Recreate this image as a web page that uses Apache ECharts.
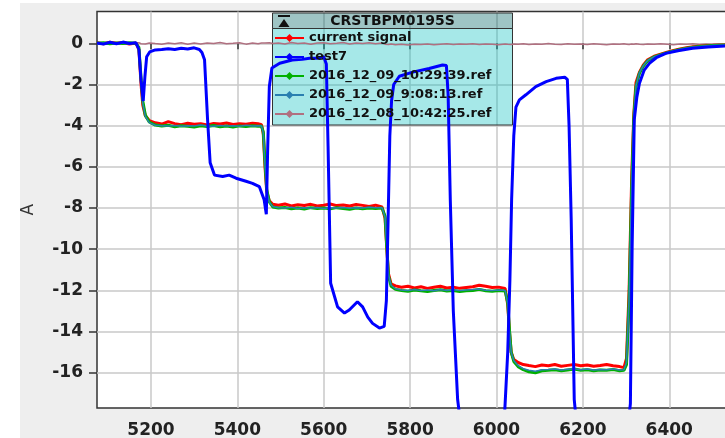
<!DOCTYPE html>
<html>
<head>
<meta charset="utf-8">
<script src="https://cdn.jsdelivr.net/npm/echarts@6/dist/echarts.min.js"></script>
<style>
  html, body { margin: 0; padding: 0; background: #fff; }
  #wrap { position: relative; width: 725px; height: 438px; overflow: hidden; }
  #panel { position: absolute; left: 20px; top: 3px; right: 0; bottom: 0; background: #eeeeee; }
  #chart { position: absolute; left: 0; top: 0; width: 725px; height: 438px; }
</style>
</head>
<body>
<div id="wrap"><div id="panel"></div><div id="chart"></div></div>
<script>
// axis ticks
var xTicks = [5200, 5400, 5600, 5800, 6000, 6200, 6400]
var yTicks = [-16, -14, -12, -10, -8, -6, -4, -2, 0]

var names = ['current signal', 'test7', '2016_12_09_10:29:39.ref', '2016_12_09_9:08:13.ref', '2016_12_08_10:42:25.ref']

// shared x for the reference curves
var xs = [5075, 5090, 5105, 5120, 5135, 5150, 5165, 5172, 5177, 5181, 5187, 5196, 5210,
  5225, 5240, 5255, 5270, 5285, 5300, 5315, 5330, 5345, 5360, 5375, 5390, 5405, 5420, 5435, 5448, 5456,
  5460, 5464, 5468, 5474, 5482,
  5495, 5510, 5525, 5540, 5555, 5570, 5585, 5600, 5615, 5630, 5645, 5660, 5675, 5690, 5705, 5720, 5735,
  5742, 5746, 5750, 5756, 5766,
  5780, 5795, 5810, 5825, 5840, 5855, 5870, 5885, 5900, 5915, 5930, 5945, 5960, 5975, 5990, 6005, 6020,
  6026, 6030, 6034, 6040, 6050,
  6062, 6075, 6090, 6105, 6120, 6135, 6150, 6165, 6180, 6195, 6210, 6225, 6240, 6255, 6270, 6285, 6295,
  6301, 6307, 6313, 6318, 6323, 6331,
  6340, 6350, 6365, 6380, 6395, 6410, 6425, 6440, 6455, 6470, 6485, 6500, 6515, 6536]

var current = [0.03, -0.02, 0.05, 0.0, 0.04, -0.03, 0.02, -0.3, -2.0, -3.0, -3.52, -3.75, -3.86,
  -3.92, -3.8, -3.9, -3.95, -3.88, -3.93, -3.9, -3.96, -3.89, -3.92, -3.87, -3.94, -3.9, -3.93, -3.88, -3.91, -3.95,
  -4.4, -6.0, -7.2, -7.65, -7.82,
  -7.86, -7.8, -7.9, -7.84, -7.88, -7.82, -7.9, -7.86, -7.8, -7.88, -7.85, -7.9, -7.83, -7.87, -7.92, -7.86, -7.95,
  -8.5, -10.0, -11.2, -11.68, -11.78,
  -11.85, -11.8, -11.88, -11.82, -11.9, -11.85, -11.8, -11.88, -11.84, -11.9, -11.86, -11.82, -11.75, -11.8, -11.86, -11.84, -11.9,
  -12.7, -14.0, -15.0, -15.35, -15.5,
  -15.6, -15.65, -15.7, -15.62, -15.66, -15.6, -15.68, -15.64, -15.6, -15.66, -15.62, -15.68, -15.65, -15.6, -15.66, -15.7, -15.75,
  -15.3, -12.0, -6.5, -3.4, -1.9, -1.4,
  -1.05, -0.8, -0.63, -0.53, -0.43, -0.35, -0.28, -0.22, -0.17, -0.14, -0.12, -0.1, -0.09, -0.07]

var ref1029 = [0.0, 0.03, -0.02, 0.02, -0.01, 0.03, 0.0, -0.2, -1.7, -2.8, -3.5, -3.82, -3.97,
  -4.02, -3.98, -4.05, -4.0, -4.03, -4.06, -4.0, -4.04, -3.99, -4.05, -4.02, -4.06, -4.01, -4.04, -4.0, -4.03, -4.02,
  -4.3, -5.8, -7.1, -7.7, -7.95,
  -8.0, -7.97, -8.03, -8.0, -8.05, -7.98, -8.02, -8.0, -8.04, -7.98, -8.02, -8.06, -8.0, -8.03, -8.0, -8.02, -8.0,
  -8.4, -9.9, -11.3, -11.8, -11.95,
  -12.0, -12.04, -11.98, -12.02, -12.05, -12.0, -11.97, -12.03, -12.0, -12.05, -12.02, -12.0, -11.95, -12.02, -12.04, -12.0, -12.03,
  -12.6, -13.9, -15.0, -15.45, -15.7,
  -15.85, -15.95, -16.0, -15.9, -15.88, -15.85, -15.9, -15.86, -15.82, -15.88, -15.85, -15.9, -15.86, -15.88, -15.84, -15.9, -15.88,
  -15.6, -12.5, -7.0, -3.6, -2.1, -1.45,
  -1.1, -0.85, -0.66, -0.55, -0.45, -0.37, -0.3, -0.24, -0.19, -0.15, -0.13, -0.11, -0.09, -0.08]

var ref0908 = [-0.02, 0.01, 0.02, -0.03, 0.01, -0.02, 0.01, -0.25, -1.8, -2.9, -3.55, -3.85, -3.98,
  -4.0, -4.02, -3.99, -4.03, -4.0, -4.02, -3.97, -4.01, -4.03, -3.99, -4.02, -4.0, -4.03, -3.98, -4.02, -4.0, -4.01,
  -4.35, -5.9, -7.15, -7.72, -7.93,
  -7.98, -8.0, -7.96, -8.02, -7.98, -8.01, -7.97, -8.02, -7.98, -8.0, -7.97, -8.01, -7.98, -8.0, -7.96, -7.99, -7.98,
  -8.45, -9.95, -11.25, -11.75, -11.92,
  -11.98, -12.0, -11.96, -12.01, -11.98, -12.02, -11.96, -12.0, -11.97, -12.01, -11.98, -11.96, -11.93, -11.99, -12.01, -11.98, -12.0,
  -12.65, -13.95, -15.0, -15.4, -15.65,
  -15.8, -15.88, -15.93, -15.85, -15.84, -15.82, -15.86, -15.83, -15.8, -15.85, -15.82, -15.86, -15.84, -15.85, -15.82, -15.86, -15.85,
  -15.5, -12.3, -6.8, -3.5, -2.05, -1.42,
  -1.08, -0.83, -0.65, -0.54, -0.44, -0.36, -0.29, -0.23, -0.18, -0.15, -0.12, -0.1, -0.09, -0.07]

var ref1042 = [0.02, -0.03, 0.01, -0.04, 0.03, -0.02, 0.0, 0.03, -0.02, 0.01, -0.03, 0.02, -0.01,
  -0.04, 0.02, -0.02, 0.03, -0.05, 0.01, -0.03, 0.02, -0.01, 0.04, -0.02, 0.0, 0.03, -0.04, 0.01, -0.02, 0.02,
  -0.03, 0.01, -0.02, 0.03, -0.01,
  0.02, -0.03, 0.04, -0.01, 0.02, -0.04, 0.01, 0.03, -0.02, 0.0, 0.04, -0.03, 0.02, -0.01, 0.03, -0.02, 0.01,
  -0.04, 0.02, -0.06, -0.03, -0.07,
  -0.05, -0.08, -0.04, -0.06, -0.03, -0.07, -0.04, -0.02, -0.06, -0.03, -0.05, -0.02, -0.06, -0.03, -0.04, -0.07, -0.03,
  -0.05, -0.02, -0.06, -0.03, -0.05,
  -0.02, -0.06, -0.03, -0.05, -0.01, -0.04, -0.06, -0.02, -0.05, -0.03, -0.06, -0.02, -0.04, -0.07, -0.03, -0.05, -0.02,
  -0.04, -0.06, -0.03, -0.05, -0.02, -0.04,
  -0.06, -0.03, -0.05, -0.02, -0.04, -0.07, -0.03, -0.05, -0.02, -0.06, -0.03, -0.04, -0.02, -0.05]

// test7 has its own sampling
var blueX = [5075, 5090, 5105, 5120, 5135, 5150, 5165, 5172, 5177, 5182,
  5186, 5190, 5197, 5210, 5225, 5240, 5255, 5270, 5285, 5300,
  5312, 5318, 5324, 5331, 5337, 5347, 5366, 5381, 5397, 5420,
  5435, 5451, 5462, 5467, 5470, 5474, 5480, 5498, 5527, 5550,
  5567, 5585, 5600, 5606, 5610, 5616, 5632, 5648, 5659, 5678,
  5690, 5702, 5713, 5729, 5740, 5745, 5749, 5753, 5757, 5762,
  5775, 5806, 5844, 5875, 5884, 5888, 5893, 5900, 5910, 5920,
  5960, 6000, 6018, 6026, 6031, 6035, 6040, 6045, 6053, 6068,
  6091, 6115, 6138, 6158, 6164, 6168, 6173, 6180, 6190, 6240,
  6300, 6310, 6314, 6319, 6325, 6331, 6342, 6354, 6370, 6392,
  6420, 6454, 6490, 6536]
var blueY = [0.02, -0.04, 0.05, -0.02, 0.06, -0.01, 0.03, -0.3, -1.8, -2.8,
  -1.6, -0.65, -0.42, -0.32, -0.3, -0.26, -0.3, -0.24, -0.28, -0.22,
  -0.3, -0.45, -0.8, -3.7, -5.8, -6.4, -6.47, -6.4, -6.55, -6.7,
  -6.8, -6.96, -7.6, -8.3, -5.3, -2.1, -1.2, -0.97, -0.81, -0.78,
  -0.73, -0.72, -0.65, -1.0, -5.0, -11.65, -12.8, -13.1, -12.95, -12.55,
  -12.8, -13.3, -13.6, -13.83, -13.75, -12.5, -8.6, -4.5, -2.8, -2.0,
  -1.6, -1.4, -1.22, -1.05, -1.08, -2.5, -7.6, -13.0, -17.3, -19.0,
  -20.5, -20.0, -18.3, -15.0, -11.5, -7.6, -4.5, -3.1, -2.75, -2.5,
  -2.1, -1.86, -1.7, -1.65, -1.75, -4.0, -8.6, -17.3, -19.5, -21.0,
  -19.5, -17.5, -10.0, -3.7, -2.6, -1.94, -1.3, -0.97, -0.7, -0.49,
  -0.36, -0.24, -0.18, -0.12]

function pairs(x, y) {
	let out = []
	for (var i = 0; i < x.length; i++) {
		out.push([x[i], y[i]])
	}
	return out
}

var chart = echarts.init(document.getElementById('chart'), null, {renderer: 'canvas'})

var tickFont = {fontFamily: 'DejaVu Sans', fontWeight: 'bold', fontSize: 17, color: '#222'}

function lineSeries(name, data, color, width) {
	return {
		name: name,
		type: 'line',
		data: data,
		symbol: 'diamond',
		showSymbol: false,
		symbolSize: 8,
		itemStyle: { color: color },
		lineStyle: { color: color, width: width },
		emphasis: { disabled: true },
		clip: true
	}
}

option = {
	backgroundColor: 'transparent',
	animation: false,
	grid: {
		left: 97, top: 11.5, right: -3, bottom: 30,
		show: true, backgroundColor: '#fff', borderColor: '#333', borderWidth: 1.5,
		containLabel: false, outerBoundsMode: 'none'
	},
	legend: {
		orient: 'vertical',
		left: 274, top: 30.5,
		padding: 0,
		itemWidth: 29, itemHeight: 10, itemGap: 4,
		z: 5,
		textStyle: { fontFamily: 'DejaVu Sans', fontWeight: 'bold', fontSize: 13, color: '#111', lineHeight: 15 },
		data: names
	},
	xAxis: {
		type: 'value',
		min: 5075, max: 6536,
		splitNumber: 7,
		axisLine: { show: false },
		axisTick: { show: true, length: 6, customValues: xTicks, lineStyle: { color: '#333', width: 1.5 } },
		axisLabel: Object.assign({ margin: 14, customValues: xTicks, formatter: function(v) { return String(v) } }, tickFont),
		splitLine: { show: true, lineStyle: { color: '#c8c8c8', width: 1.5 } }
	},
	yAxis: {
		type: 'value',
		min: -17.71, max: 1.545,
		splitNumber: 10,
		name: 'A',
		nameLocation: 'middle',
		nameGap: 60,
		nameRotate: 90,
		nameTextStyle: { fontFamily: 'DejaVu Sans', fontSize: 17, color: '#333' },
		axisLine: { show: false },
		axisTick: { show: true, length: 8, customValues: yTicks, lineStyle: { color: '#333', width: 1.5 } },
		axisLabel: Object.assign({ margin: 14, customValues: yTicks, formatter: function(v) { return String(v) } }, tickFont),
		splitLine: { show: true, lineStyle: { color: '#c8c8c8', width: 1.5 } }
	},
	graphic: [
		{ type: 'rect', z: 3, shape: { x: 272.5, y: 28.5, width: 240, height: 96.5 },
		  style: { fill: 'rgba(0,190,190,0.35)', stroke: '#333', lineWidth: 1 } },
		{ type: 'rect', z: 3, shape: { x: 272.5, y: 13, width: 240, height: 15.5 },
		  style: { fill: 'rgba(0,100,100,0.38)', stroke: '#333', lineWidth: 1 } },
		{ type: 'text', z: 6, x: 392.5, y: 21,
		  style: { text: 'CRSTBPM0195S', font: 'bold 14px "DejaVu Sans"', fill: '#111', align: 'center', verticalAlign: 'middle' } },
		{ type: 'rect', z: 6, shape: { x: 278, y: 15, width: 12, height: 2 }, style: { fill: '#111' } },
		{ type: 'polygon', z: 6, shape: { points: [[284, 19], [278.5, 27], [289.5, 27]] }, style: { fill: '#111' } }
	],
	series: [
		lineSeries(names[4], pairs(xs, ref1042), '#b07080', 1.5),
		lineSeries(names[0], pairs(xs, current), '#ff0000', 3),
		lineSeries(names[2], pairs(xs, ref1029), '#00b000', 3),
		lineSeries(names[3], pairs(xs, ref0908), '#2a7fb0', 1.5),
		lineSeries(names[1], pairs(blueX, blueY), '#0000ff', 3)
	]
}

chart.setOption(option)
</script>
</body>
</html>
